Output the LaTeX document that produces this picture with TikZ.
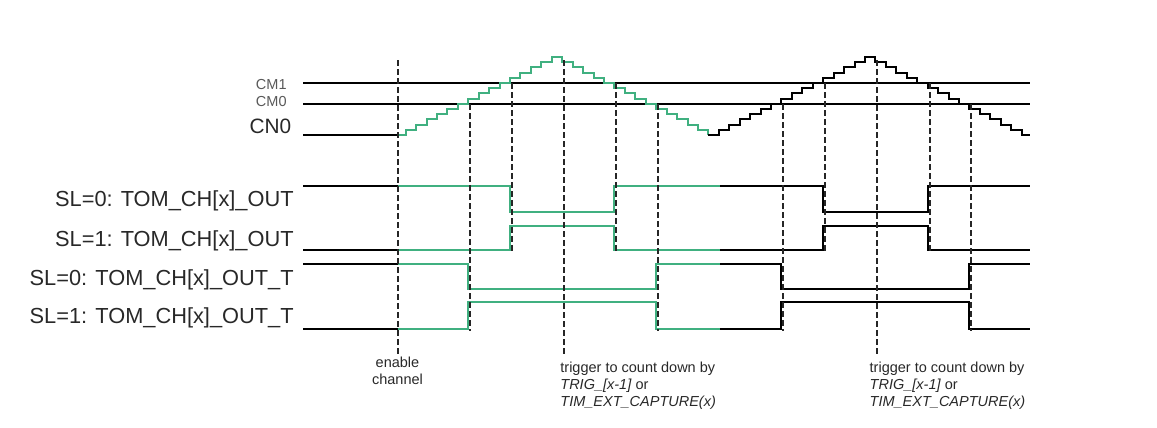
\documentclass[tikz,border=0pt]{standalone}
\usepackage{fontspec}
\setmainfont{Liberation Sans}
\definecolor{chgreen}{RGB}{64,176,128}
\definecolor{inkgray}{RGB}{40,40,40}
\tikzset{>=stealth,
  sig/.style={line width=0.8pt},
  guide/.style={line width=0.85pt,draw=black!85,dash pattern=on 3pt off 1.5pt},
  siglabel/.style={anchor=base east,inner sep=0,text=inkgray,font=\fontsize{10.9}{13}\selectfont},
  cmlabel/.style={anchor=base east,inner sep=0,text=black!65,font=\fontsize{7.25}{8.7}\selectfont},
  note/.style={inner sep=0,text=inkgray,font=\fontsize{7.25}{8.3}\selectfont}}

\begin{document}
\begin{tikzpicture}[x=0.5pt,y=-0.5pt,declare function={rk(\k)=round(395.2+10.44*\k);lv(\n)=round(135-5.2*\n);}]
    \useasboundingbox (0,0) rectangle (1157,428);
    \draw[line width=0.55pt] (303,83) -- (1030,83) (303,104) -- (1030,104);
    \node[cmlabel] (cm1) at (287,89.3) {CM1};
    \node[cmlabel] (cm0) at (287,106.7) {CM0};
    \node[siglabel,font=\fontsize{10.4}{12.5}\selectfont] (cn0) at (291.7,133.3) {CN0};
    \draw[sig] (303,135) -- (398,135);
    \draw[sig,chgreen] (398,135) \foreach \k in {1,...,30} { -| ({rk(\k)},{lv(min(\k,30-\k))}) };
    \draw[sig] ({rk(30)},135) \foreach \k in {31,...,60} { -| ({rk(\k)},{lv(min(\k-30,60-\k))}) } -- (1030,135);
    \foreach \a/\b/\ka/\kb/\yb/\txt [count=\i] in {
        186/212/11/21/206.7/{SL=0: TOM\_CH[x]\_OUT},
        250/226/11/21/246/{SL=1: TOM\_CH[x]\_OUT},
        264/289/7/25/285/{SL=0: TOM\_CH[x]\_OUT\_T},
        329/302/7/25/323.3/{SL=1: TOM\_CH[x]\_OUT\_T}} {
        \draw[sig] (303,\a) -- (398,\a);
        \draw[sig,chgreen] (398,\a) -| ({rk(\ka)},\b) -| ({rk(\kb)},\a) -- (720,\a);
        \draw[sig] (720,\a) -| ({rk(\ka+30)},\b) -| ({rk(\kb+30)},\a) -- (1030,\a);
        \node[siglabel] (sl\i) at (294,\yb) {\txt};
      }
    \draw[guide] (398,60) -- (398,355);
    \foreach \k/\ya/\yz in {7/104/331,11/83/253,16/60/355,21/83/253,25/104/331,
        37/104/331,41/83/253,46/60/355,51/83/253,55/104/331}
      \draw[guide] ({rk(\k)+2},\ya) -- ({rk(\k)+2},\yz);
    \node[note,align=center,anchor=north] (enable) at (397.5,357) {enable\\channel};
    \node[note,align=left,anchor=north west] (trig1) at (560,362)
      {trigger to count down by\\\textit{TRIG\_[x-1]} or\\\textit{TIM\_EXT\_CAPTURE(x)}};
    \node[note,align=left,anchor=north west] (trig2) at (869.3,362)
      {trigger to count down by\\\textit{TRIG\_[x-1]} or\\\textit{TIM\_EXT\_CAPTURE(x)}};
  \end{tikzpicture}
\end{document}
